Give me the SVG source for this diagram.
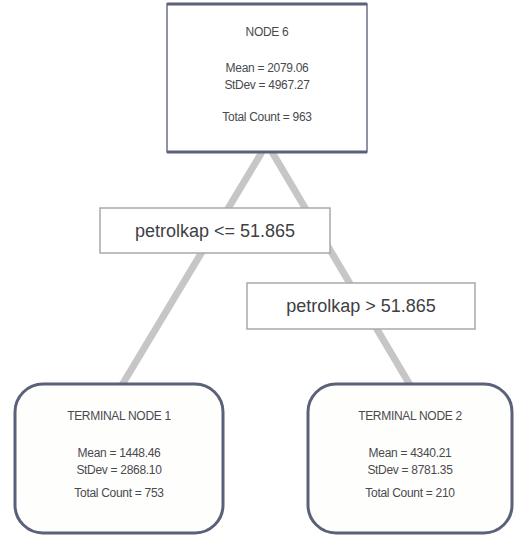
<svg xmlns="http://www.w3.org/2000/svg" width="517" height="541" viewBox="0 0 517 541">
<style>
.bg{fill:#ffffff}
.edge{stroke:#c6c6c8;stroke-width:7;fill:none;stroke-linecap:butt}
.top{fill:#ffffff;stroke:#6a7088;stroke-width:1.5}
.term{fill:#fefefd;stroke:#5b6178;stroke-width:3}
.cond{fill:#ffffff;stroke:#a9a9ad;stroke-width:1.5}
.t{font-family:"Liberation Sans",Arial,sans-serif;fill:#4a4a4e;text-anchor:middle}
.s{font-size:12px;letter-spacing:-0.3px}
.c{font-size:18px;fill:#404044}
</style>
<rect class="bg" x="0" y="0" width="517" height="541"/>
<g id="connectors">
<line class="edge" x1="262" y1="152" x2="122" y2="385"/>
<line class="edge" x1="272" y1="152" x2="410" y2="385"/>
</g>
<g id="node6">
<rect class="top" x="167" y="4" width="200" height="148"/>
<line x1="167" y1="4" x2="367" y2="4" stroke="#5b6178" stroke-width="3"/>
<line x1="167" y1="152" x2="367" y2="152" stroke="#5b6178" stroke-width="3"/>
<text class="t s" x="267" y="36">NODE 6</text>
<text class="t s" x="267" y="72">Mean = 2079.06</text>
<text class="t s" x="267" y="89">StDev = 4967.27</text>
<text class="t s" x="267" y="121">Total Count = 963</text>
</g>
<g id="cond-left">
<rect class="cond" x="100" y="208" width="230" height="45"/>
<text class="t c" x="215" y="237">petrolkap &lt;= 51.865</text>
</g>
<g id="cond-right">
<rect class="cond" x="247" y="283" width="228" height="46"/>
<text class="t c" x="361" y="312">petrolkap &gt; 51.865</text>
</g>
<g id="terminal1">
<rect class="term" x="15" y="384" width="208" height="149" rx="28"/>
<text class="t s" x="119" y="420">TERMINAL NODE 1</text>
<text class="t s" x="119" y="457">Mean = 1448.46</text>
<text class="t s" x="119" y="474">StDev = 2868.10</text>
<text class="t s" x="119" y="497">Total Count = 753</text>
</g>
<g id="terminal2">
<rect class="term" x="308" y="384" width="204" height="149" rx="28"/>
<text class="t s" x="410" y="420">TERMINAL NODE 2</text>
<text class="t s" x="410" y="457">Mean = 4340.21</text>
<text class="t s" x="410" y="474">StDev = 8781.35</text>
<text class="t s" x="410" y="497">Total Count = 210</text>
</g>
</svg>
